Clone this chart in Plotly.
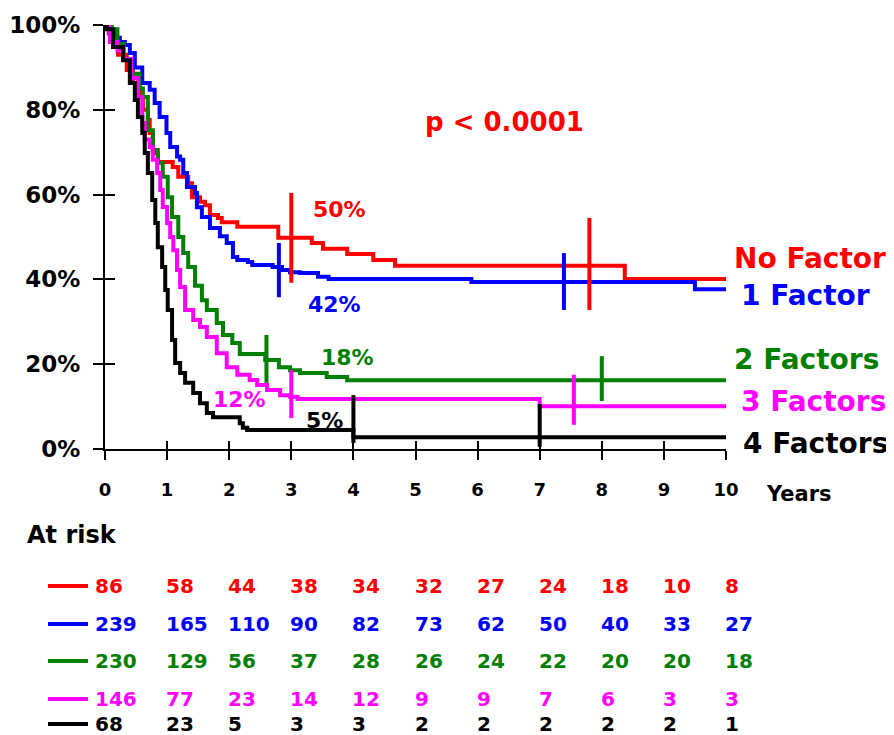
import plotly.graph_objects as go

FONT = "DejaVu Sans"

# ---------------- data ----------------
groups = ["No Factor", "1 Factor", "2 Factors", "3 Factors", "4 Factors"]
colors = ["#FF0000", "#0000FF", "#008000", "#FF00FF", "#000000"]

red_t = [0, 0.06, 0.13, 0.21, 0.35, 0.45, 0.56, 0.61, 0.69, 0.72, 0.77, 0.85, 1.09, 1.18, 1.34, 1.40,
         1.53, 1.61, 1.69, 1.82, 1.88, 2.13, 2.79, 3.33, 3.51, 3.90, 4.32, 4.67, 8.37, 10]
red_s = [100, 98, 96, 93, 89.4, 86.3, 83, 80, 77.6, 74.5, 69.8, 67.7, 66.5, 64.2, 62.7, 59.4,
         58.3, 57.5, 55.2, 54.5, 53.5, 52.4, 49.8, 48.6, 47.2, 46.0, 44.6, 43.2, 40.1, 40.1]

blue_t = [0, 0.08, 0.16, 0.24, 0.32, 0.40, 0.48, 0.60, 0.72, 0.80, 0.88, 0.99, 1.05, 1.16, 1.21, 1.26,
          1.32, 1.45, 1.48, 1.56, 1.69, 1.85, 1.96, 2.06, 2.13, 2.30, 2.37, 2.70, 2.85, 2.98, 3.14,
          3.43, 3.60, 5.90, 9.50, 10]
blue_s = [100, 98.5, 97, 96, 95.3, 93.4, 90, 86.3, 84.7, 81.6, 78.3, 74.5, 71.2, 69, 68.2, 65.1,
          61.8, 60.4, 57, 54.7, 52.1, 50.2, 48.6, 45.3, 44.6, 44.1, 43.4, 42.9, 42.2, 41.7, 41.5,
          40.6, 40.1, 39.4, 37.7, 37.7]

green_t = [0, 0.11, 0.20, 0.30, 0.42, 0.55, 0.61, 0.69, 0.77, 0.85, 0.93, 1.01, 1.08, 1.18, 1.26, 1.34,
           1.45, 1.56, 1.64, 1.80, 1.90, 2.05, 2.17, 2.58, 2.80, 2.98, 3.14, 3.57, 3.90, 10]
green_s = [100, 99, 95.5, 92, 88.5, 85, 83, 75.2, 70.5, 67.5, 64.2, 59.4, 54.7, 50, 46.2, 42.9,
           38.5, 35.1, 32.8, 29.7, 26.9, 25, 22.4, 21, 19.3, 18.6, 17.9, 17.0, 16.2, 16.2]

magenta_t = [0, 0.08, 0.20, 0.30, 0.42, 0.53, 0.60, 0.64, 0.72, 0.77, 0.84, 0.89, 0.93, 1.00, 1.05,
             1.10, 1.16, 1.21, 1.29, 1.42, 1.53, 1.64, 1.80, 1.96, 2.13, 2.33, 2.45, 2.61, 2.82,
             2.98, 3.10, 7.00, 10]
magenta_s = [100, 96, 94, 92, 87.5, 83, 76.9, 73, 71.2, 68.2, 65.1, 61.1, 57.1, 53.3, 50,
             46.9, 42.2, 38.2, 32.8, 30.4, 28.8, 26.4, 22.6, 19.3, 17.5, 16.3, 15.1, 13.9, 12.7,
             12.3, 11.8, 10.1, 10.1]

black_t = [0, 0.03, 0.13, 0.29, 0.40, 0.48, 0.53, 0.60, 0.64, 0.69, 0.76, 0.81, 0.85, 0.92, 0.97,
           1.01, 1.08, 1.13, 1.21, 1.29, 1.42, 1.53, 1.64, 1.74, 2.17, 2.22, 2.29, 4.00, 10]
black_s = [100, 99, 94.8, 91.7, 86.3, 82.3, 78.3, 74.5, 69.8, 65.1, 58.7, 53.3, 47.6, 42.9, 37.5,
           32.8, 25.7, 20.3, 17.9, 15.6, 13.2, 10.8, 8.5, 7.5, 6.1, 5.0, 4.5, 2.8, 2.8]

curve_t = [red_t, blue_t, green_t, magenta_t, black_t]
curve_s = [red_s, blue_s, green_s, magenta_s, black_s]

# censor ("+") marks: time, low, high
censor_t = [[3.0, 7.8], [2.8, 7.39], [2.6, 8.0], [3.0, 7.55], [4.0, 7.0]]
censor_lo = [[39.2, 32.8], [35.8, 32.8], [15.6, 11.3], [7.3, 5.7], [1.4, 0.5]]
censor_hi = [[60.4, 54.5], [48.6, 46.2], [26.9, 21.9], [18.6, 17.5], [12.7, 10.6]]

# percentage labels on curves
pct_labels = ["50%", "42%", "18%", "12%", "5%"]
pct_x = [3.78, 3.69, 3.91, 2.17, 3.54]
pct_y = [56.4, 34.0, 21.5, 11.6, 6.8]

# group labels at right edge
grp_y = [45.0, 36.3, 21.0, 11.1, 1.4]
grp_shift = [6, 13, 6, 13, 15]

# at risk table
risk_years = [0, 1, 2, 3, 4, 5, 6, 7, 8, 9, 10]
risk_red = [86, 58, 44, 38, 34, 32, 27, 24, 18, 10, 8]
risk_blue = [239, 165, 110, 90, 82, 73, 62, 50, 40, 33, 27]
risk_green = [230, 129, 56, 37, 28, 26, 24, 22, 20, 20, 18]
risk_magenta = [146, 77, 23, 14, 12, 9, 9, 7, 6, 3, 3]
risk_black = [68, 23, 5, 3, 3, 2, 2, 2, 2, 2, 1]
risk_rows = [risk_red, risk_blue, risk_green, risk_magenta, risk_black]

y_ticks = [0, 20, 40, 60, 80, 100]
y_ticktext = ["0%", "20%", "40%", "60%", "80%", "100%"]
x_ticks = [0, 1, 2, 3, 4, 5, 6, 7, 8, 9, 10]

# ---------------- layout geometry ----------------
# page body has an 8px margin; the figure is sized to fit the 894x735 window
OFF = 8
W, H = 894 - OFF, 735 - OFF
PL, PR, PT, PB = 105, 726, 25, 449          # plot area in window pixels
ML, MT = PL - OFF, PT - OFF
MR, MB = W - (PR - OFF), H - (PB - OFF)
PW, PH = PR - PL, PB - PT


def px_x(p):
    return (p - PL) / PW


def px_y(p):
    return (PB - p) / PH


fig = go.Figure()

for t, s, c, name in zip(curve_t, curve_s, colors, groups):
    fig.add_trace(go.Scatter(x=t, y=s, mode="lines", line=dict(color=c, width=4, shape="hv"),
                             name=name, showlegend=False, hoverinfo="skip"))

for ct, lo, hi, c in zip(censor_t, censor_lo, censor_hi, colors):
    xs, ys = [], []
    for a, b, d in zip(ct, lo, hi):
        xs += [a, a, None]
        ys += [b, d, None]
    fig.add_trace(go.Scatter(x=xs, y=ys, mode="lines", line=dict(color=c, width=4),
                             showlegend=False, hoverinfo="skip", xaxis="x2", yaxis="y2"))

ann = []
bold = dict(family=FONT, weight="bold")

ann.append(dict(x=6.44, y=77.1, xref="x", yref="y", text="p < 0.0001", showarrow=False,
                yanchor="middle", font=dict(size=26, color="#FF0000", **bold)))

for lab, x, y, c in zip(pct_labels, pct_x, pct_y, colors):
    ann.append(dict(x=x, y=y, xref="x", yref="y", text=lab, showarrow=False, yanchor="middle",
                    font=dict(size=22, color=c, **bold)))

for lab, y, sh, c in zip(groups, grp_y, grp_shift, colors):
    ann.append(dict(x=10, y=y, xref="x", yref="y", text=lab, showarrow=False, xanchor="left",
                    yanchor="middle", xshift=sh, font=dict(size=28, color=c, **bold)))

ann.append(dict(x=px_x(764), y=px_y(494), xref="paper", yref="paper", text="Years",
                showarrow=False, xanchor="left", yanchor="middle",
                font=dict(size=21, color="black", **bold)))
ann.append(dict(x=px_x(25), y=px_y(535), xref="paper", yref="paper", text="At risk",
                showarrow=False, xanchor="left", yanchor="middle",
                font=dict(size=24, color="black", **bold)))

row_py = [586, 624, 661, 699, 724]
shapes = []
for row, py, c in zip(risk_rows, row_py, colors):
    shapes.append(dict(type="line", xref="paper", yref="paper", x0=px_x(48), x1=px_x(88),
                       y0=px_y(py), y1=px_y(py), line=dict(color=c, width=4)))
    for yr, v in zip(risk_years, row):
        ann.append(dict(x=yr, y=px_y(py), xref="x", yref="paper", text=str(v), showarrow=False,
                        xanchor="left", yanchor="middle", xshift=(-12 if yr == 0 else -3),
                        font=dict(size=20, color=c, **bold)))

axis_common = dict(showgrid=False, zeroline=False, automargin=False)
fig.update_layout(
    width=W, height=H, autosize=False,
    margin=dict(l=ML, r=MR, t=MT, b=MB, pad=0, autoexpand=False),
    paper_bgcolor="white", plot_bgcolor="white",
    showlegend=False,
    xaxis=dict(range=[0, 10], tickvals=x_ticks, ticks="outside", ticklen=9, tickwidth=2,
               tickcolor="black", showline=True, linewidth=2, linecolor="black",
               tickfont=dict(size=18, color="black", **bold), ticklabelstandoff=14, **axis_common),
    yaxis=dict(range=[0, 100], tickvals=y_ticks, ticks="outside", ticktext=y_ticktext, ticklen=10,
               tickwidth=2, tickcolor="black", showline=True, linewidth=2, linecolor="black",
               tickfont=dict(size=23, color="black", **bold), ticklabelstandoff=8, **axis_common),
    xaxis2=dict(range=[0, 10], overlaying="x", anchor="y2", side="bottom", tickvals=x_ticks,
                ticks="inside", ticklen=8, tickwidth=2, tickcolor="black", showticklabels=False,
                showline=False, **axis_common),
    yaxis2=dict(range=[0, 100], overlaying="y", anchor="x2", side="left", tickvals=y_ticks,
                ticks="inside", ticklen=10, tickwidth=2, tickcolor="black", showticklabels=False,
                showline=False, **axis_common),
    annotations=ann,
    shapes=shapes,
)

fig.write_html("out.html")
